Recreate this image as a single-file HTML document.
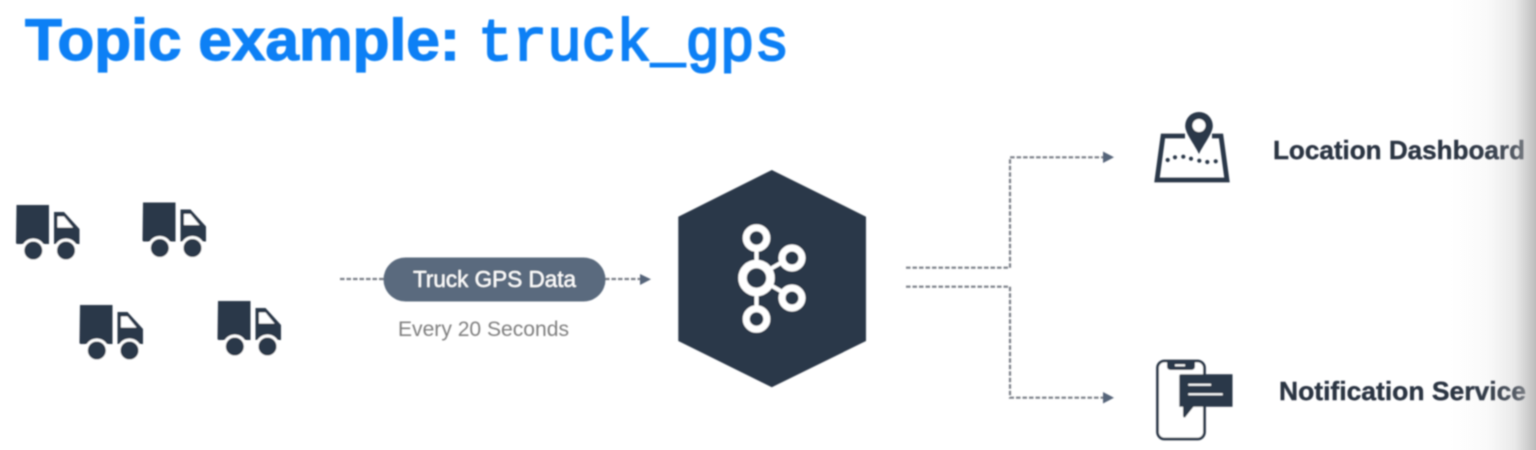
<!DOCTYPE html>
<html>
<head>
<meta charset="utf-8">
<style>
html,body{margin:0;padding:0;background:#fff;width:1536px;height:450px;overflow:hidden}
svg{display:block}
text{font-family:"Liberation Sans",sans-serif}
</style>
</head>
<body>
<svg width="1536" height="450" viewBox="0 0 1536 450" xmlns="http://www.w3.org/2000/svg">
<defs>
<linearGradient id="edge" x1="0" x2="1" y1="0" y2="0">
<stop offset="0" stop-color="#b8b8b8" stop-opacity="0"/>
<stop offset="0.45" stop-color="#b8b8b8" stop-opacity="0.08"/>
<stop offset="0.75" stop-color="#b8b8b8" stop-opacity="0.3"/>
<stop offset="1" stop-color="#b0b0b0" stop-opacity="0.85"/>
</linearGradient>
<filter id="soft" x="-2%" y="-2%" width="104%" height="104%"><feGaussianBlur stdDeviation="0.7"/></filter>
<g id="truck">
<path d="M0.5 0H33V39H1.5Q0 39 0 37.5Z" fill="#2b3848"/>
<path d="M38 7H48L63.5 24V39H38Z" fill="#2b3848"/>
<path d="M41.5 11.5H48L57 22.5H41.5Z" fill="#fff"/>
<circle cx="17.3" cy="45.5" r="12" fill="#fff"/>
<circle cx="50" cy="45.5" r="12" fill="#fff"/>
<circle cx="17.3" cy="45.5" r="9" fill="#2b3848"/>
<circle cx="50" cy="45.5" r="9" fill="#2b3848"/>
</g>
</defs>
<g filter="url(#soft)">
<text x="25" y="60" font-size="58" font-weight="700" fill="#0a80f5" stroke="#0a80f5" stroke-width="1.2" textLength="435" lengthAdjust="spacingAndGlyphs">Topic example:</text>
<text x="478" y="60" font-size="59" font-weight="400" fill="#0a80f5" stroke="#0a80f5" stroke-width="2" textLength="311" lengthAdjust="spacingAndGlyphs" style="font-family:'Liberation Mono',monospace">truck_gps</text>

<use href="#truck" x="16" y="205"/>
<use href="#truck" x="142.5" y="202.5"/>
<use href="#truck" x="79.5" y="305"/>
<use href="#truck" x="217.5" y="301"/>

<path d="M340 279H384M605 279H641" fill="none" stroke="#7b8088" stroke-width="2.2" stroke-dasharray="4.5 2"/>
<path d="M640 274L651 279.3L640 285Z" fill="#56657a"/>
<rect x="383.5" y="257.5" width="222" height="44" rx="22" fill="#5a6a7e"/>
<text x="413" y="287" font-size="23" fill="#fff" stroke="#fff" stroke-width="0.2" textLength="163" lengthAdjust="spacingAndGlyphs">Truck GPS Data</text>
<text x="398" y="336" font-size="21" fill="#7f7f7f" textLength="171" lengthAdjust="spacingAndGlyphs">Every 20 Seconds</text>

<path d="M678.3 216.7L771.8 170L866 216.7V341L771.8 387.3L678.3 341Z" fill="#2b3848"/>
<g fill="none" stroke="#fff">
<path d="M756.5 248V320M756.5 277L791 257M756.5 277L791 297" stroke-width="4"/>
<circle cx="756.5" cy="238" r="10.3" stroke-width="7" fill="#2b3848"/>
<circle cx="792" cy="258" r="10" stroke-width="7" fill="#2b3848"/>
<circle cx="756.5" cy="278" r="14" stroke-width="8.5" fill="#2b3848"/>
<circle cx="792" cy="298" r="10" stroke-width="7" fill="#2b3848"/>
<circle cx="756.5" cy="319" r="10.3" stroke-width="7" fill="#2b3848"/>
</g>

<path d="M906 267.7H1010V157.3H1104M906 286.7H1010V397.7H1104" fill="none" stroke="#7b8088" stroke-width="2.2" stroke-dasharray="4.5 2"/>
<path d="M1103 151.5L1114 157.3L1103 163Z" fill="#56657a"/>
<path d="M1103 392L1114 397.7L1103 403.5Z" fill="#56657a"/>

<path d="M1185 136H1163L1157 180H1227L1221 136H1212" fill="none" stroke="#2b3848" stroke-width="4.8"/>
<path d="M1199 112A13.8 13.8 0 0 1 1212.8 125.8C1212.8 133.5 1204 143.5 1199 154C1194 143.5 1185.2 133.5 1185.2 125.8A13.8 13.8 0 0 1 1199 112Z" fill="#2b3848"/>
<circle cx="1199" cy="125.5" r="6.5" fill="#fff"/>
<g fill="#2b3848">
<circle cx="1167.7" cy="160" r="2.1"/><circle cx="1175" cy="157.3" r="2.1"/><circle cx="1183.3" cy="156.7" r="2.1"/><circle cx="1191" cy="158.7" r="2.1"/><circle cx="1199.3" cy="160.7" r="2.1"/><circle cx="1207.3" cy="162" r="2.1"/><circle cx="1215.7" cy="161.3" r="2.1"/>
</g>
<text x="1273" y="159" font-size="26" font-weight="700" fill="#2b3443" stroke="#2b3443" stroke-width="0.4" textLength="252" lengthAdjust="spacingAndGlyphs">Location Dashboard</text>

<rect x="1157.5" y="361" width="47" height="78" rx="7" fill="#fff" stroke="#2b3848" stroke-width="2.8"/>
<path d="M1167 361H1195V366Q1195 370 1191 370H1171Q1167 370 1167 366Z" fill="#2b3848"/>
<path d="M1175 365.3H1185" stroke="#fff" stroke-width="2"/>
<path d="M1181 374.3H1232.5V406.7H1193.5L1185 417.5Q1183 418 1183 415V406.7H1179.3V376Q1179.3 374.3 1181 374.3Z" fill="#2b3848"/>
<path d="M1188.3 384.7H1211M1188.3 394.3H1222.7" stroke="#fff" stroke-width="2"/>
<text x="1279" y="400" font-size="26" font-weight="700" fill="#2b3443" stroke="#2b3443" stroke-width="0.4" textLength="247" lengthAdjust="spacingAndGlyphs">Notification Service</text>
</g>
<rect x="1450" y="0" width="86" height="450" fill="url(#edge)"/>
</svg>
</body>
</html>
